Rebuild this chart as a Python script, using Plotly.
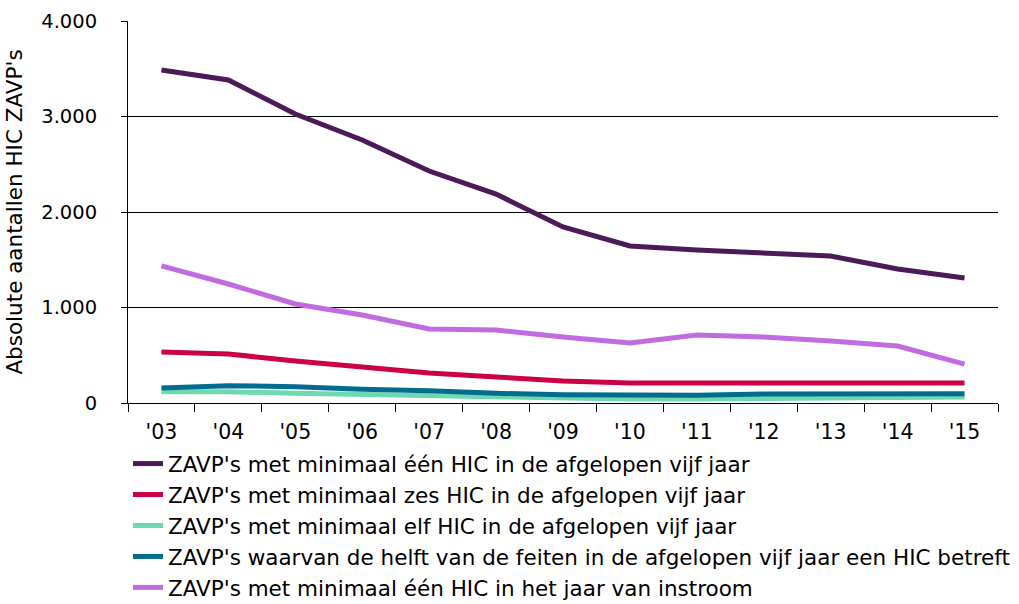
"""
Absolute aantallen HIC ZAVP's, 2003-2015
"""

import plotly.graph_objects as go

years = ["'03", "'04", "'05", "'06", "'07", "'08", "'09", "'10", "'11", "'12", "'13", "'14", "'15"]

een_hic_vijf_jaar = [3487, 3382, 3026, 2754, 2429, 2188, 1843, 1644, 1602, 1571, 1539, 1403, 1309]
zes_hic_vijf_jaar = [534, 513, 440, 377, 314, 272, 230, 209, 209, 220, 209, 220, 209]
elf_hic_vijf_jaar = [118, 118, 101, 87, 73, 59, 45, 42, 42, 49, 52, 63, 63]
helft_feiten_hic = [157, 181, 171, 143, 129, 101, 87, 84, 80, 94, 94, 90, 97]
een_hic_instroom = [1435, 1246, 1037, 921, 775, 764, 691, 628, 712, 691, 649, 597, 408]

series = [
    ("ZAVP's met minimaal één HIC in de afgelopen vijf jaar", een_hic_vijf_jaar, '#4B1A57'),
    ("ZAVP's met minimaal zes HIC in de afgelopen vijf jaar", zes_hic_vijf_jaar, '#CC0044'),
    ("ZAVP's met minimaal elf HIC in de afgelopen vijf jaar", elf_hic_vijf_jaar, '#6ED8B0'),
    ("ZAVP's waarvan de helft van de feiten in de afgelopen vijf jaar een HIC betreft", helft_feiten_hic, '#006D8F'),
    ("ZAVP's met minimaal één HIC in het jaar van instroom", een_hic_instroom, '#C06BE0'),
]

font_family = 'DejaVu Sans, Verdana, sans-serif'

fig = go.Figure()

for i, (name, values, color) in enumerate(series):
    fig.add_trace(go.Scatter(
        x=years,
        y=values,
        name=name,
        mode='lines',
        legendgroup=str(i),
        line=dict(color=color, width=5),
        hovertemplate='<b>%{x}</b><br>%{y:,d}<extra></extra>'
    ))

fig.update_layout(
    width=1019,
    height=604,
    paper_bgcolor='white',
    plot_bgcolor='white',
    separators=',.',
    font=dict(family=font_family, size=20, color='#000'),
    margin=dict(l=128, r=21, t=21, b=201, autoexpand=False),
    showlegend=True,
    legend=dict(
        x=0.0,
        xanchor='left',
        y=-0.105,
        yanchor='top',
        tracegroupgap=0,
        itemwidth=30,
        font=dict(family=font_family, size=21.5),
        bgcolor='rgba(0,0,0,0)'
    ),
    xaxis=dict(
        type='category',
        range=[-0.5, 12.5],
        automargin=False,
        showline=True,
        linecolor='#000',
        linewidth=1,
        ticks='outside',
        tickson='boundaries',
        ticklen=8,
        tickcolor='#000',
        ticklabelstandoff=10,
        showgrid=False,
        tickfont=dict(size=20.5)
    ),
    yaxis=dict(
        range=[0, 4000],
        tickvals=[0, 1000, 2000, 3000, 4000],
        tickformat=',d',
        automargin=False,
        showline=True,
        linecolor='#000',
        linewidth=1,
        ticks='outside',
        ticklen=6,
        tickcolor='#000',
        ticklabelstandoff=20,
        showgrid=True,
        gridcolor='#000',
        gridwidth=1,
        zeroline=False,
        tickfont=dict(size=19.5),
        title=dict(text="Absolute aantallen HIC ZAVP's", font=dict(size=21.5), standoff=12)
    )
)

# the page's default body margin would shift the figure by 8px
fig.write_html(
    "out.html",
    config={'displayModeBar': False},
    post_script="document.body.style.margin = '0';"
)
